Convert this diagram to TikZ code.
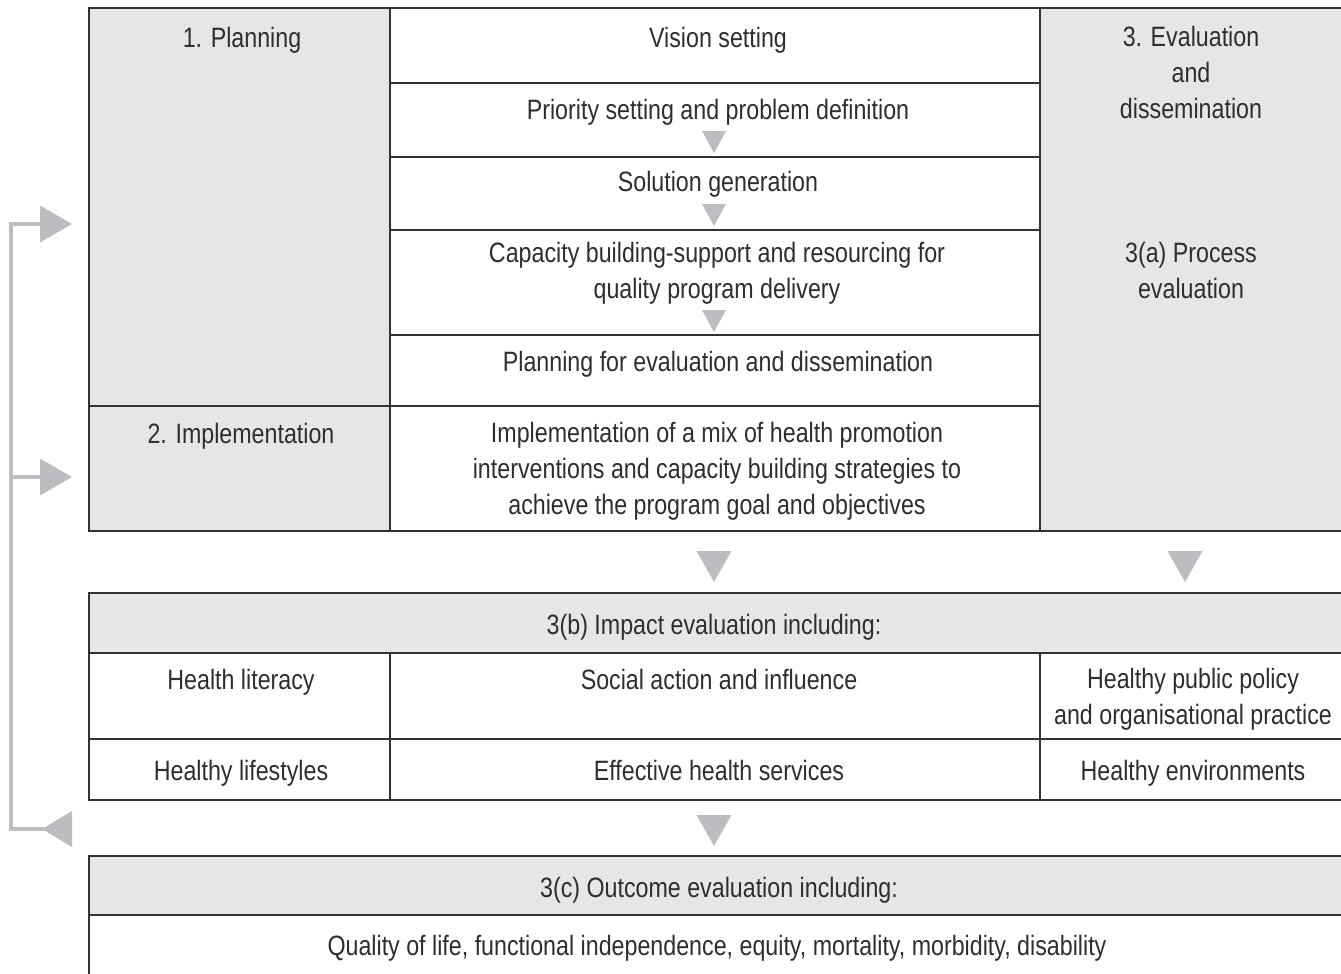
\documentclass[tikz,border=0pt]{standalone}
\usepackage{fontspec}
\setmainfont{Liberation Sans}[FakeStretch=0.83]
\usetikzlibrary{fit}
\definecolor{cellgray}{HTML}{E5E6E8}
\definecolor{arrowgray}{HTML}{BCBDC0}
\definecolor{txtc}{HTML}{2E2E2E}
\definecolor{rulec}{HTML}{333333}
\begin{document}
\begin{tikzpicture}[x=1pt,y=-1pt,
  cell/.style={draw=rulec, line width=1.4pt, inner sep=0pt},
  gcell/.style={cell, fill=cellgray},
  lbl/.style={text=txtc, font=\fontsize{28}{36}\selectfont, align=center,
    inner sep=0pt, anchor=north, execute at begin node=\strut},
  tri/.style={fill=arrowgray, draw=none},
  fb/.style={draw=arrowgray, line width=4.5pt}]
\useasboundingbox (0,0) rectangle (1341,974);
% top block
\node[gcell, fit={(89,8)(390,406)}] (plan) {};
\node[gcell, fit={(89,406)(390,531)}] (impl) {};
\node[gcell, fit={(1040,8)(1346,531)}] (evalc) {};
\node[cell, fit={(390,8)(1040,83)}] (vision) {};
\node[cell, fit={(390,83)(1040,157)}] (prio) {};
\node[cell, fit={(390,157)(1040,230)}] (sol) {};
\node[cell, fit={(390,230)(1040,335)}] (cap) {};
\node[cell, fit={(390,335)(1040,406)}] (peval) {};
\node[cell, fit={(390,406)(1040,531)}] (implmid) {};
% impact block
\node[gcell, fit={(89,593)(1346,653)}] (impact) {};
\node[cell, fit={(89,653)(390,739)}] (hlit) {};
\node[cell, fit={(390,653)(1040,739)}] (social) {};
\node[cell, fit={(1040,653)(1346,739)}] (policy) {};
\node[cell, fit={(89,739)(390,800)}] (life) {};
\node[cell, fit={(390,739)(1040,800)}] (serv) {};
\node[cell, fit={(1040,739)(1346,800)}] (env) {};
% outcome block
\node[gcell, fit={(89,856)(1346,915)}] (outcome) {};
\node[cell, fit={(89,915)(1346,982)}] (quality) {};
% texts
\node[lbl] (tplan) at (242,21.8) {1. Planning};
\node[lbl] (tvision) at (718,21.8) {Vision setting};
\node[lbl] (tprio) at (718,93.8) {Priority setting and problem definition};
\node[lbl] (tsol) at (718,165.8) {Solution generation};
\node[lbl] (tcap) at (717,242.3) {Capacity building-support and resourcing for\\quality program delivery};
\node[lbl] (tpeval) at (718,345.8) {Planning for evaluation and dissemination};
\node[lbl] (timpl) at (241,417.8) {2. Implementation};
\node[lbl] (timplmid) at (717,422.3) {Implementation of a mix of health promotion\\interventions and capacity building strategies to\\achieve the program goal and objectives};
\node[lbl] (teval) at (1191,26.3) {3. Evaluation\\and\\dissemination};
\node[lbl] (tproc) at (1191,242.3) {3(a) Process\\evaluation};
\node[lbl] (timpact) at (714,608.8) {3(b) Impact evaluation including:};
\node[lbl] (thlit) at (241,663.8) {Health literacy};
\node[lbl] (tsocial) at (719,663.8) {Social action and influence};
\node[lbl] (tpolicy) at (1193,668.3) {Healthy public policy\\and organisational practice};
\node[lbl] (tlife) at (241,754.8) {Healthy lifestyles};
\node[lbl] (tserv) at (719,754.8) {Effective health services};
\node[lbl] (tenv) at (1193,754.8) {Healthy environments};
\node[lbl] (toutcome) at (719,871.8) {3(c) Outcome evaluation including:};
\node[lbl] (tquality) at (717,929.8) {Quality of life, functional independence, equity, mortality, morbidity, disability};
% small flow triangles
\fill[tri] (702,131) -- (726,131) -- (714,153) -- cycle;
\fill[tri] (702,204) -- (726,204) -- (714,226) -- cycle;
\fill[tri] (702,310) -- (726,310) -- (714,332) -- cycle;
% big flow triangles
\fill[tri] (696.5,551) -- (731.5,551) -- (714,582) -- cycle;
\fill[tri] (1167.5,551) -- (1202.5,551) -- (1185,582) -- cycle;
\fill[tri] (696.5,815) -- (731.5,815) -- (714,846) -- cycle;
% feedback loop
\coordinate (fbtop) at (11,224);
\coordinate (fbmid) at (11,477);
\coordinate (fbbot) at (11,829);
\coordinate (h1) at (41,224);
\coordinate (h2) at (41,477);
\coordinate (h3) at (44,829);
\draw[fb] (h3) -- (fbbot) -- (fbtop) -- (h1);
\draw[fb] (fbmid) -- (h2);
\fill[tri] (40,205.5) -- (72,224) -- (40,242.5) -- cycle;
\fill[tri] (40,458.5) -- (72,477) -- (40,495.5) -- cycle;
\fill[tri] (72,811) -- (42,829) -- (72,847) -- cycle;
\end{tikzpicture}
\end{document}
